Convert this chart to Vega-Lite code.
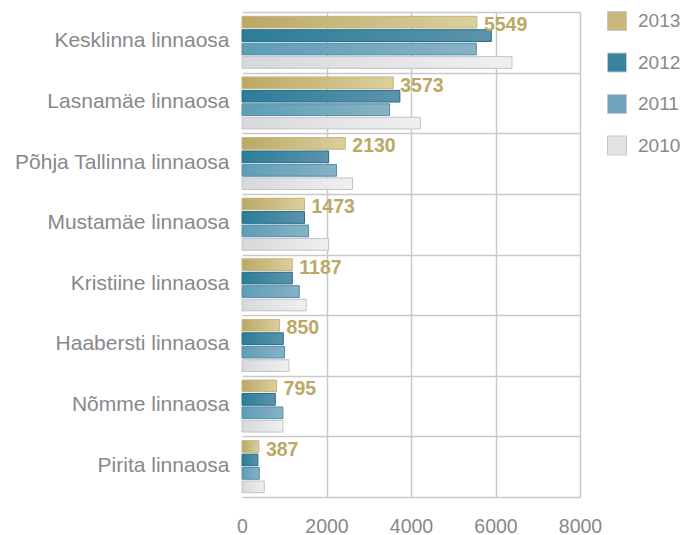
{
  "$schema": "https://vega.github.io/schema/vega-lite/v6.json",
  "autosize": {"type": "none"},
  "padding": {"left": 242, "top": 12, "right": 107, "bottom": 38},
  "width": 338,
  "height": 485,
  "background": "#ffffff",
  "config": {
    "view": {"stroke": null},
    "font": "Liberation Sans"
  },
  "data": {
    "values": [
      {"district": "Kesklinna linnaosa", "year": "2013", "value": 5560, "label": "5549"},
      {"district": "Kesklinna linnaosa", "year": "2012", "value": 5900},
      {"district": "Kesklinna linnaosa", "year": "2011", "value": 5545},
      {"district": "Kesklinna linnaosa", "year": "2010", "value": 6390},
      {"district": "Lasnamäe linnaosa", "year": "2013", "value": 3580, "label": "3573"},
      {"district": "Lasnamäe linnaosa", "year": "2012", "value": 3737},
      {"district": "Lasnamäe linnaosa", "year": "2011", "value": 3493},
      {"district": "Lasnamäe linnaosa", "year": "2010", "value": 4220},
      {"district": "Põhja Tallinna linnaosa", "year": "2013", "value": 2445, "label": "2130"},
      {"district": "Põhja Tallinna linnaosa", "year": "2012", "value": 2050},
      {"district": "Põhja Tallinna linnaosa", "year": "2011", "value": 2238},
      {"district": "Põhja Tallinna linnaosa", "year": "2010", "value": 2617},
      {"district": "Mustamäe linnaosa", "year": "2013", "value": 1480, "label": "1473"},
      {"district": "Mustamäe linnaosa", "year": "2012", "value": 1480},
      {"district": "Mustamäe linnaosa", "year": "2011", "value": 1576},
      {"district": "Mustamäe linnaosa", "year": "2010", "value": 2050},
      {"district": "Kristiine linnaosa", "year": "2013", "value": 1190, "label": "1187"},
      {"district": "Kristiine linnaosa", "year": "2012", "value": 1190},
      {"district": "Kristiine linnaosa", "year": "2011", "value": 1355},
      {"district": "Kristiine linnaosa", "year": "2010", "value": 1520},
      {"district": "Haabersti linnaosa", "year": "2013", "value": 890, "label": "850"},
      {"district": "Haabersti linnaosa", "year": "2012", "value": 977},
      {"district": "Haabersti linnaosa", "year": "2011", "value": 1008},
      {"district": "Haabersti linnaosa", "year": "2010", "value": 1110},
      {"district": "Nõmme linnaosa", "year": "2013", "value": 818, "label": "795"},
      {"district": "Nõmme linnaosa", "year": "2012", "value": 788},
      {"district": "Nõmme linnaosa", "year": "2011", "value": 968},
      {"district": "Nõmme linnaosa", "year": "2010", "value": 968},
      {"district": "Pirita linnaosa", "year": "2013", "value": 400, "label": "387"},
      {"district": "Pirita linnaosa", "year": "2012", "value": 376},
      {"district": "Pirita linnaosa", "year": "2011", "value": 409},
      {"district": "Pirita linnaosa", "year": "2010", "value": 527}
    ]
  },
  "encoding": {
    "y": {
      "field": "district",
      "type": "nominal",
      "sort": null,
      "title": null,
      "scale": {"paddingInner": 0, "paddingOuter": 0},
      "axis": {
        "domain": false,
        "ticks": false,
        "tickBand": "extent",
        "grid": true,
        "gridColor": "#c9c9cb",
        "gridWidth": 1.5,
        "labelFontSize": 21,
        "labelColor": "#88888c",
        "labelPadding": 13,
        "labelLimit": 300,
        "labelOffset": -1.5
      }
    },
    "x": {
      "field": "value",
      "type": "quantitative",
      "title": null,
      "scale": {"domain": [0, 8000], "nice": false},
      "axis": {
        "values": [0, 2000, 4000, 6000, 8000],
        "domain": false,
        "ticks": false,
        "grid": true,
        "gridColor": {"condition": {"test": "datum.value === 0", "value": "transparent"}, "value": "#c9c9cb"},
        "gridWidth": 1.5,
        "labelFontSize": 19.5,
        "labelColor": "#88888c",
        "labelPadding": 20,
        "labelFlush": false,
        "labelOverlap": false,
        "format": "d"
      }
    },
    "yOffset": {
      "field": "year",
      "type": "nominal",
      "scale": {"domain": ["2013", "2012", "2011", "2010"], "paddingInner": 0.13, "paddingOuter": 0.32}
    }
  },
  "layer": [
    {
      "mark": {"type": "bar", "strokeWidth": 1},
      "encoding": {
        "color": {
          "field": "year",
          "type": "nominal",
          "scale": {"domain": ["2013", "2012", "2011", "2010"], "range": ["#c9b97f", "#3b82a0", "#6ea5bd", "#e3e3e5"]},
          "legend": {
            "title": null,
            "orient": "none",
            "legendX": 365,
            "legendY": -1,
            "padding": 0,
            "symbolType": "square",
            "symbolSize": 361,
            "symbolStrokeWidth": 1,
            "symbolStrokeColor": "#c8c8c8",
            "labelFontSize": 19,
            "labelColor": "#88888c",
            "labelOffset": 11,
            "rowPadding": 17.5
          }
        }
      }
    },
    {
      "mark": {"type": "bar", "strokeWidth": 1},
      "encoding": {
        "fill": {
          "condition": [
            {"test": "datum.year === '2013'", "value": {"gradient": "linear", "x1": 0, "x2": 1, "y1": 0, "y2": 0, "stops": [{"offset": 0, "color": "#bba866"}, {"offset": 1, "color": "#dbcf9e"}]}},
            {"test": "datum.year === '2012'", "value": {"gradient": "linear", "x1": 0, "x2": 1, "y1": 0, "y2": 0, "stops": [{"offset": 0, "color": "#2a7d99"}, {"offset": 1, "color": "#5c93ab"}]}},
            {"test": "datum.year === '2011'", "value": {"gradient": "linear", "x1": 0, "x2": 1, "y1": 0, "y2": 0, "stops": [{"offset": 0, "color": "#5e9db7"}, {"offset": 1, "color": "#87b2c6"}]}}
          ],
          "value": {"gradient": "linear", "x1": 0, "x2": 1, "y1": 0, "y2": 0, "stops": [{"offset": 0, "color": "#d7d8db"}, {"offset": 1, "color": "#f0f0f1"}]}
        },
        "stroke": {
          "condition": [
            {"test": "datum.year === '2013'", "value": "#c8b77d"},
            {"test": "datum.year === '2012'", "value": "#2d6e87"},
            {"test": "datum.year === '2011'", "value": "#5690a9"}
          ],
          "value": "#c3c4c7"
        }
      }
    },
    {
      "transform": [{"filter": "datum.year === '2013'"}],
      "mark": {"type": "text", "align": "left", "baseline": "middle", "dx": 7, "dy": 3, "fontSize": 19.5, "fontWeight": "bold", "color": "#bba865"},
      "encoding": {
        "text": {"field": "label", "type": "nominal"}
      }
    }
  ]
}
